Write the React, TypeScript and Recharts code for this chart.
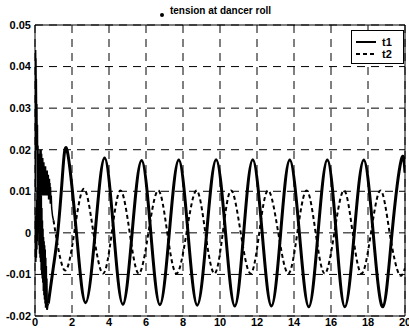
import { LineChart, Line, XAxis, YAxis, CartesianGrid, ReferenceArea } from 'recharts'

// ── Axis ticks ───────────────────────────────────────────────────────────────

const xTicks = [0, 2, 4, 6, 8, 10, 12, 14, 16, 18, 20]
const yTicks = [-0.02, -0.01, 0, 0.01, 0.02, 0.03, 0.04, 0.05]

// ── t1: noisy start-up ───────────────────────────────────────────────────────

const t1NoiseT = [
  0, 0.01, 0.02, 0.03, 0.04, 0.05, 0.06, 0.075, 0.09, 0.105, 0.12, 0.135, 0.15, 0.165, 0.18,
  0.195, 0.21, 0.225, 0.24, 0.255, 0.27, 0.285, 0.3, 0.315, 0.33, 0.345, 0.36, 0.375, 0.39,
  0.405, 0.42, 0.435, 0.45, 0.465, 0.48, 0.495, 0.51, 0.525, 0.54, 0.555, 0.57, 0.585, 0.6,
  0.615, 0.63, 0.65, 0.68, 0.72,
]
const t1NoiseV = [
  0.01, 0.03, 0.044, 0.038, 0.042, 0.034, 0.037, 0.027, 0.031, 0.02, 0.026, 0.008, 0.021, 0.004, 0.019,
  0.0, 0.018, -0.003, 0.016, -0.005, 0.014, -0.006, 0.012, -0.007, 0.009, -0.009, 0.006, -0.01, 0.003,
  -0.011, 0.001, -0.012, -0.001, -0.014, -0.002, -0.015, -0.003, -0.016, -0.004, -0.017, -0.006, -0.018, -0.008,
  -0.018, -0.011, -0.0185, -0.0175, -0.017,
]

// ── t1: steady oscillation ───────────────────────────────────────────────────

const t1WaveT = [
  0.72, 1.0, 1.23, 1.48, 1.74, 2.24, 2.73, 3.25, 3.76, 4.26, 4.75, 5.25, 5.76, 6.26, 6.75,
  7.26, 7.77, 8.27, 8.77, 9.28, 9.79, 10.3, 10.8, 11.28, 11.77, 12.28, 12.78, 13.28, 13.77,
  14.29, 14.8, 15.3, 15.8, 16.28, 16.75, 17.26, 17.77, 18.28, 18.8, 19.3, 19.8, 20,
]
const t1WaveV = [
  -0.017, -0.008, 0.0, 0.0135, 0.0198, 0.0, -0.0168, 0.0, 0.018, 0.0, -0.0172, 0.0, 0.0174, 0.0, -0.0173,
  0.0, 0.0175, 0.0, -0.0174, 0.0, 0.0176, 0.0, -0.0176, 0.0, 0.0176, 0.0, -0.0176, 0.0, 0.0175,
  0.0, -0.0178, 0.0, 0.0175, 0.0, -0.0178, 0.0, 0.0175, 0.0, -0.0178, 0.0, 0.0176, 0.0145,
]

// ── t2: noisy start-up ───────────────────────────────────────────────────────

const t2NoiseT = [
  0, 0.015, 0.03, 0.045, 0.06, 0.075, 0.09, 0.105, 0.12, 0.135, 0.15, 0.165, 0.18, 0.195, 0.21,
  0.225, 0.24, 0.255, 0.27, 0.285, 0.3, 0.315, 0.33, 0.345, 0.36, 0.375, 0.39, 0.405, 0.42,
  0.435, 0.45, 0.465, 0.48, 0.495, 0.51, 0.525, 0.54, 0.555, 0.57, 0.585, 0.6, 0.615, 0.63,
  0.645, 0.66, 0.675, 0.69, 0.705, 0.72, 0.735, 0.75, 0.765, 0.78, 0.795, 0.81, 0.825, 0.84,
  0.86, 0.88, 0.9, 0.95, 1.0,
]
const t2NoiseV = [
  0.0, -0.006, 0.004, -0.007, 0.006, -0.006, 0.008, -0.004, 0.011, -0.002, 0.014, 0.0, 0.016, 0.003, 0.018,
  0.005, 0.019, 0.007, 0.02, 0.008, 0.019, 0.009, 0.02, 0.009, 0.019, 0.01, 0.018, 0.009, 0.018,
  0.01, 0.017, 0.009, 0.017, 0.01, 0.016, 0.009, 0.016, 0.01, 0.016, 0.009, 0.015, 0.01, 0.015,
  0.009, 0.015, 0.009, 0.014, 0.009, 0.014, 0.008, 0.013, 0.008, 0.013, 0.008, 0.012, 0.007, 0.011,
  0.007, 0.009, 0.006, 0.004, 0.003,
]

// ── t2: steady oscillation ───────────────────────────────────────────────────

const t2WaveT = [
  1.0, 1.6, 2.12, 2.64, 3.16, 3.68, 4.15, 4.62, 5.12, 5.61, 6.13, 6.66, 7.15, 7.65, 8.19,
  8.73, 9.21, 9.7, 10.15, 10.6, 11.12, 11.65, 12.12, 12.6, 13.15, 13.69, 14.18, 14.68,
  15.17, 15.66, 16.18, 16.7, 17.17, 17.65, 18.16, 18.68, 19.17, 19.66, 20,
]
const t2WaveV = [
  0.003, -0.009, 0.0, 0.0106, 0.0, -0.0098, 0.0, 0.0102, 0.0, -0.0098, 0.0, 0.0102, 0.0, -0.0098, 0.0,
  0.0102, 0.0, -0.0098, 0.0, 0.0102, 0.0, -0.0098, 0.0, 0.0102, 0.0, -0.0098, 0.0, 0.0102,
  0.0, -0.0098, 0.0, 0.0102, 0.0, -0.0098, 0.0, 0.0102, 0.0, -0.0098, -0.0085,
]

// ── Helpers ──────────────────────────────────────────────────────────────────

function zip(ts: number[], vs: number[]) {
  return ts.map((t, i) => ({ t, v: vs[i] }))
}

const t1Noise = zip(t1NoiseT, t1NoiseV)
const t1Wave = zip(t1WaveT, t1WaveV)
const t2Noise = zip(t2NoiseT, t2NoiseV)
const t2Wave = zip(t2WaveT, t2WaveV)

const FONT = '"Liberation Sans", Arial, sans-serif'
const tickStyle = { fontSize: 11, fontWeight: 700, fill: '#000', fontFamily: FONT }

function fmtY(v: number) {
  return v === 0 ? '0' : v.toFixed(2)
}

// ── Component ────────────────────────────────────────────────────────────────

export default function App() {
  return (
    <div style={{ position: 'absolute', left: 0, top: 0, width: 409, height: 330, background: '#fff' }}>
      {/* title */}
      <div
        style={{
          position: 'absolute',
          left: 0,
          width: 441,
          top: 5,
          textAlign: 'center',
          fontFamily: FONT,
          fontSize: 10,
          fontWeight: 700,
          color: '#000',
          lineHeight: '12px',
        }}
      >
        tension at dancer roll
      </div>
      <div
        style={{
          position: 'absolute',
          left: 160,
          top: 13,
          width: 4,
          height: 4,
          borderRadius: 2,
          background: '#000',
        }}
      />

      <LineChart width={409} height={330} margin={{ top: 25, right: 4, bottom: 0, left: 0 }}>
        <CartesianGrid stroke="#000" strokeDasharray="8 6" strokeWidth={1} />
        <XAxis
          dataKey="t"
          type="number"
          domain={[0, 20]}
          ticks={xTicks}
          allowDataOverflow
          height={14}
          tickSize={2}
          tickMargin={0}
          tickLine={false}
          axisLine={false}
          tick={tickStyle}
          interval={0}
        />
        <YAxis
          type="number"
          domain={[-0.02, 0.05]}
          ticks={yTicks}
          allowDataOverflow
          width={35}
          tickSize={4}
          tickMargin={0}
          tickLine={false}
          axisLine={false}
          tick={tickStyle}
          tickFormatter={fmtY}
          interval={0}
        />
        <ReferenceArea x1={0} x2={20} y1={-0.02} y2={0.05} fill="none" stroke="#000" strokeWidth={1} />
        <Line data={t2Noise} dataKey="v" type="linear" stroke="#000" strokeWidth={1.5} dot={false} isAnimationActive={false} />
        <Line data={t2Wave} dataKey="v" type="natural" stroke="#000" strokeWidth={2} strokeDasharray="4 3" dot={false} isAnimationActive={false} />
        <Line data={t1Noise} dataKey="v" type="linear" stroke="#000" strokeWidth={2} dot={false} isAnimationActive={false} />
        <Line data={t1Wave} dataKey="v" type="natural" stroke="#000" strokeWidth={3} dot={false} isAnimationActive={false} />
      </LineChart>

      {/* legend */}
      <div
        style={{
          position: 'absolute',
          left: 351,
          top: 30,
          width: 51,
          height: 32,
          border: '1px solid #000',
          background: '#fff',
          fontFamily: FONT,
          fontSize: 11,
          fontWeight: 700,
        }}
      >
        <svg width={51} height={32} style={{ position: 'absolute', left: 0, top: 0 }}>
          <line x1={4} x2={24} y1={11} y2={11} stroke="#000" strokeWidth={2} />
          <line x1={4} x2={24} y1={23} y2={23} stroke="#000" strokeWidth={2} strokeDasharray="4 3" />
          <text x={30} y={15} fontSize={11} fontWeight={700} fontFamily={FONT}>t1</text>
          <text x={30} y={27} fontSize={11} fontWeight={700} fontFamily={FONT}>t2</text>
        </svg>
      </div>
    </div>
  )
}
